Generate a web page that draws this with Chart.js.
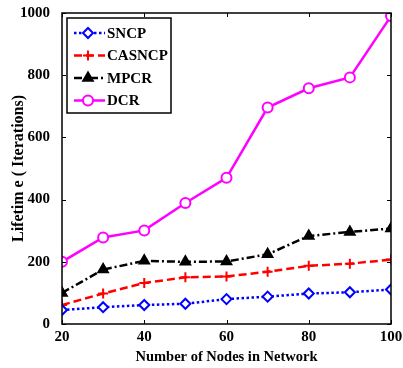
<!DOCTYPE html>
<html>
<head>
<meta charset="utf-8">
<script src="https://cdn.jsdelivr.net/npm/chart.js@4/dist/chart.umd.min.js"></script>
<style>
  html, body { margin: 0; padding: 0; background: #fff; }
  #wrap { width: 403px; height: 368px; }
</style>
</head>
<body>
<div id="wrap"><canvas id="lifetimeChart" width="403" height="368"></canvas></div>
<script>
// data
const nodes = [20, 30, 40, 50, 60, 70, 80, 90, 100];
const sncp = [45, 54, 61, 65, 80, 88, 98, 102, 111];
const casncp = [61, 98, 132, 150, 153, 168, 187, 194, 207];
const mpcr = [100, 175, 203, 200, 201, 224, 283, 296, 307];
const dcr = [200, 278, 301, 389, 470, 696, 758, 793, 990];
const xTicks = [20, 40, 60, 80, 100];
const yTicks = [0, 200, 400, 600, 800, 1000];

const serif = "'Liberation Serif', 'DejaVu Serif', serif";

function pts(ys) {
  return nodes.map((x, i) => ({ x: x, y: ys[i] }));
}

const series = [
  { label: 'SNCP', data: sncp, color: '#0000ff', dash: [2.5, 2.5], style: 'rectRot', radius: 5, fill: '#ffffff' },
  { label: 'CASNCP', data: casncp, color: '#ff0000', dash: [8, 4], style: 'cross', radius: 5, fill: '#ff0000' },
  { label: 'MPCR', data: mpcr, color: '#000000', dash: [8, 3, 2, 3], style: 'triangle', radius: 5.5, fill: '#000000' },
  { label: 'DCR', data: dcr, color: '#ff00ff', dash: [], style: 'circle', radius: 5, fill: '#ffffff' }
];

// box round the plot with inner tick marks, plus the legend
const frame = {
  id: 'frame',
  afterDraw(chart) {
    const c = chart.ctx, a = chart.chartArea;
    const xs = chart.scales.x, ys = chart.scales.y;
    c.save();
    c.strokeStyle = '#000';
    c.lineWidth = 1.5;
    c.setLineDash([]);
    c.strokeRect(a.left, a.top, a.right - a.left, a.bottom - a.top);
    c.lineWidth = 1;
    xTicks.forEach((v) => {
      const px = Math.round(xs.getPixelForValue(v)) + 0.5;
      c.beginPath();
      c.moveTo(px, a.bottom); c.lineTo(px, a.bottom - 4);
      c.moveTo(px, a.top); c.lineTo(px, a.top + 4);
      c.stroke();
    });
    yTicks.forEach((v) => {
      const py = Math.round(ys.getPixelForValue(v)) + 0.5;
      c.beginPath();
      c.moveTo(a.left, py); c.lineTo(a.left + 4, py);
      c.moveTo(a.right, py); c.lineTo(a.right - 4, py);
      c.stroke();
    });

    const lx = a.left + 5, ly = a.top + 5, lw = 104, lh = 95;
    c.fillStyle = '#fff';
    c.fillRect(lx, ly, lw, lh);
    c.lineWidth = 1.5;
    c.strokeRect(lx, ly, lw, lh);
    c.font = "bold 15px " + serif;
    c.textBaseline = 'middle';
    series.forEach((s, i) => {
      const y = ly + 15 + i * 22.5;
      c.strokeStyle = s.color;
      c.lineWidth = 2.5;
      c.setLineDash(s.dash);
      c.beginPath();
      c.moveTo(lx + 7, y); c.lineTo(lx + 38, y);
      c.stroke();
      c.setLineDash([]);
      c.fillStyle = s.fill;
      c.lineWidth = 2;
      Chart.helpers.drawPoint(c, { pointStyle: s.style, radius: s.radius, borderWidth: 2, rotation: 0 }, lx + 21, y);
      c.fillStyle = '#000';
      c.fillText(s.label, lx + 40, y + 1);
    });
    c.restore();
  }
};

const ctx = document.getElementById('lifetimeChart').getContext('2d');

new Chart(ctx, {
  type: 'line',
  data: {
    datasets: series.map((s) => ({
      label: s.label,
      data: pts(s.data),
      borderColor: s.color,
      backgroundColor: s.fill,
      borderWidth: 2.5,
      borderDash: s.dash,
      pointStyle: s.style,
      pointRadius: s.radius,
      pointBorderColor: s.color,
      pointBackgroundColor: s.fill,
      pointBorderWidth: 2,
      tension: 0,
      fill: false
    }))
  },
  options: {
    responsive: false,
    animation: false,
    layout: { padding: { left: 0, right: 12, top: 12, bottom: 0 } },
    scales: {
      x: {
        type: 'linear',
        min: 20,
        max: 100,
        afterBuildTicks: (s) => { s.ticks = xTicks.map((v) => ({ value: v })); },
        afterFit: (s) => { s.height = 44; },
        grid: { display: false },
        border: { display: false },
        ticks: { color: '#000', padding: -4, font: { family: serif, size: 15, weight: 'bold' } },
        title: {
          display: true,
          text: 'Number of Nodes in Network',
          color: '#000',
          padding: { top: 0, bottom: 2 },
          font: { family: serif, size: 14.5, weight: 'bold' }
        }
      },
      y: {
        min: 0,
        max: 1000,
        afterBuildTicks: (s) => { s.ticks = yTicks.map((v) => ({ value: v })); },
        afterFit: (s) => { s.width = 62; },
        grid: { display: false },
        border: { display: false },
        ticks: {
          color: '#000',
          padding: 4,
          font: { family: serif, size: 15, weight: 'bold' },
          callback: (v) => String(v)
        },
        title: {
          display: true,
          text: 'Lifetim e ( Iterations)',
          color: '#000',
          padding: { top: 9, bottom: 0 },
          font: { family: serif, size: 16, weight: 'bold' }
        }
      }
    },
    plugins: {
      legend: { display: false },
      tooltip: { enabled: false }
    }
  },
  plugins: [frame]
});
</script>
</body>
</html>
